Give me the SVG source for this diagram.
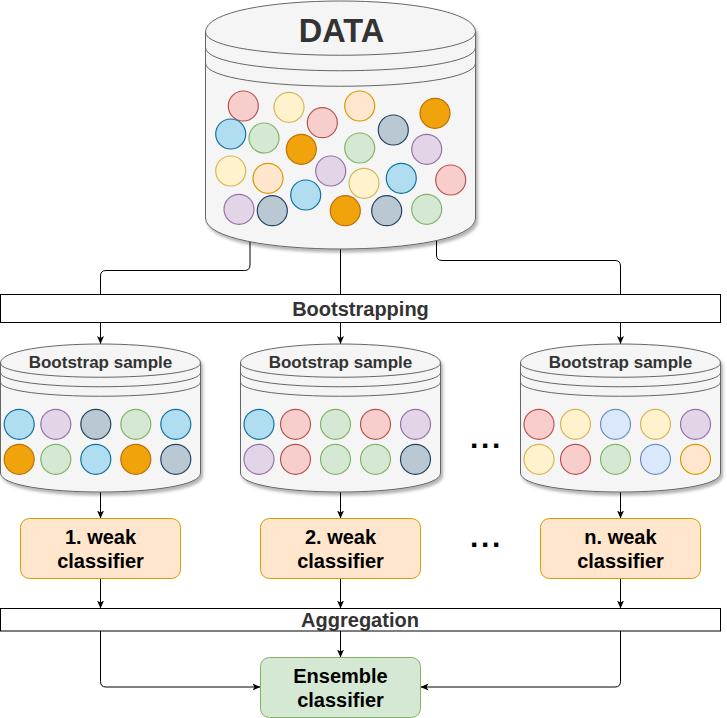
<svg xmlns="http://www.w3.org/2000/svg" width="727" height="718" viewBox="0 0 727 718">
<style>
text{font-family:"Liberation Sans",Arial,Helvetica,sans-serif;font-weight:bold;text-anchor:middle}
.cyl{fill:#f5f5f5;stroke:#666666;stroke-width:1}
.cyl-line{fill:none;stroke:#666666;stroke-width:1}
.gray{fill:#333333}
.blk{fill:#000000}
.bar{fill:#ffffff;stroke:#000000;stroke-width:1}
.weak{fill:#ffe6cc;stroke:#d79b00;stroke-width:1}
.ens{fill:#d5e8d4;stroke:#82b366;stroke-width:1}
.conn{fill:none;stroke:#000000;stroke-width:1}
.pk{fill:#f8cecc;stroke:#b85450}
.ye{fill:#fff2cc;stroke:#d6b656}
.pe{fill:#ffe6cc;stroke:#d79b00}
.or{fill:#f0a30a;stroke:#bd7000}
.bl{fill:#b1ddf0;stroke:#10739e}
.gr{fill:#d5e8d4;stroke:#82b366}
.sl{fill:#bac8d3;stroke:#23445d}
.pu{fill:#e1d5e7;stroke:#9673a6}
.lb{fill:#dae8fc;stroke:#6c8ebf}
circle{stroke-width:1.2}
</style>
<defs>
<filter id="sh" x="-10%" y="-10%" width="130%" height="130%">
<feDropShadow dx="2" dy="3" stdDeviation="1.5" flood-color="#000000" flood-opacity="0.3"/>
</filter>
<marker id="arr" viewBox="0 0 8 8" markerWidth="8" markerHeight="8" refX="8" refY="4" orient="auto" markerUnits="userSpaceOnUse">
<path d="M0,0.5 L8,4 L0,7.5 L2,4 Z" fill="#000000"/>
</marker>
<g id="bscyl">
<path class="cyl" filter="url(#sh)" d="M0.5,363 C0.5,337.67 200.5,337.67 200.5,363 L200.5,473 C200.5,498.33 0.5,498.33 0.5,473 Z"/>
<path class="cyl-line" d="M0.5,363 C0.5,382 200.5,382 200.5,363"/>
<path class="cyl-line" d="M0.5,372.5 C0.5,391.5 200.5,391.5 200.5,372.5"/>
<path class="cyl-line" d="M0.5,382 C0.5,401 200.5,401 200.5,382"/>
<text class="gray" x="100.5" y="368.3" font-size="17">Bootstrap sample</text>
</g>
</defs>

<g id="connectors">
<path class="conn" d="M250,235 L250,265 Q250,270.5 244.5,270.5 L106,270.5 Q100.5,270.5 100.5,276 L100.5,294.5"/>
<path class="conn" d="M340.5,245 L340.5,294.5"/>
<path class="conn" d="M436.5,235 L436.5,255 Q436.5,260.5 442,260.5 L615,260.5 Q620.5,260.5 620.5,266 L620.5,294.5"/>
<path class="conn" marker-end="url(#arr)" d="M100.5,322.5 L100.5,344"/>
<path class="conn" marker-end="url(#arr)" d="M340.5,322.5 L340.5,344"/>
<path class="conn" marker-end="url(#arr)" d="M620.5,322.5 L620.5,344"/>
<path class="conn" marker-end="url(#arr)" d="M100.5,490 L100.5,518.5"/>
<path class="conn" marker-end="url(#arr)" d="M340.5,490 L340.5,518.5"/>
<path class="conn" marker-end="url(#arr)" d="M620.5,490 L620.5,518.5"/>
<path class="conn" marker-end="url(#arr)" d="M100.5,578.5 L100.5,608.5"/>
<path class="conn" marker-end="url(#arr)" d="M340.5,578.5 L340.5,608.5"/>
<path class="conn" marker-end="url(#arr)" d="M620.5,578.5 L620.5,608.5"/>
<path class="conn" marker-end="url(#arr)" d="M340.5,631 L340.5,657.5"/>
<path class="conn" marker-end="url(#arr)" d="M100.5,631 L100.5,681.5 Q100.5,687 106,687 L260.5,687"/>
<path class="conn" marker-end="url(#arr)" d="M620.5,631 L620.5,681.5 Q620.5,687 615,687 L420.5,687"/>
</g>

<g id="data">
<path class="cyl" filter="url(#sh)" d="M205.5,32 C205.5,-9.33 475.5,-9.33 475.5,32 L475.5,218 C475.5,259.33 205.5,259.33 205.5,218 Z"/>
<path class="cyl-line" d="M205.5,32 C205.5,63 475.5,63 475.5,32"/>
<path class="cyl-line" d="M205.5,47.5 C205.5,78.5 475.5,78.5 475.5,47.5"/>
<path class="cyl-line" d="M205.5,63 C205.5,94 475.5,94 475.5,63"/>
<text class="gray" x="341.5" y="41.5" font-size="32.5">DATA</text>
<circle class="pk" cx="243.3" cy="106" r="15"/>
<circle class="ye" cx="289" cy="107.3" r="15"/>
<circle class="pk" cx="322.3" cy="122.7" r="15"/>
<circle class="pe" cx="359.7" cy="106" r="15"/>
<circle class="or" cx="435" cy="113.3" r="15"/>
<circle class="bl" cx="230.7" cy="134" r="15"/>
<circle class="gr" cx="264" cy="138" r="15"/>
<circle class="or" cx="301.3" cy="149.3" r="15"/>
<circle class="gr" cx="359.7" cy="148" r="15"/>
<circle class="sl" cx="393.3" cy="130" r="15"/>
<circle class="pu" cx="426.7" cy="149.3" r="15"/>
<circle class="ye" cx="230.7" cy="171" r="15"/>
<circle class="pe" cx="268" cy="178.3" r="15"/>
<circle class="pu" cx="330.7" cy="171" r="15"/>
<circle class="ye" cx="364" cy="183.3" r="15"/>
<circle class="bl" cx="401.3" cy="178.3" r="15"/>
<circle class="pk" cx="450.7" cy="180" r="15"/>
<circle class="bl" cx="305.7" cy="195" r="15"/>
<circle class="pu" cx="239" cy="209.3" r="15"/>
<circle class="sl" cx="272.3" cy="210.7" r="15"/>
<circle class="or" cx="345.3" cy="210.7" r="15"/>
<circle class="sl" cx="386.7" cy="210.7" r="15"/>
<circle class="gr" cx="426.7" cy="209.3" r="15"/>
</g>

<g id="bootstrapping">
<rect class="bar" x="0.5" y="294.5" width="720" height="28"/>
<text class="gray" x="360.5" y="316" font-size="20">Bootstrapping</text>
</g>

<g id="sample1">
<use href="#bscyl"/>
<circle class="bl" cx="19.2" cy="424.3" r="15"/>
<circle class="pu" cx="55.8" cy="424.3" r="15"/>
<circle class="sl" cx="95.8" cy="424.3" r="15"/>
<circle class="gr" cx="135.8" cy="424.3" r="15"/>
<circle class="bl" cx="175.8" cy="424.3" r="15"/>
<circle class="or" cx="19.2" cy="459.3" r="15"/>
<circle class="gr" cx="55.8" cy="459.3" r="15"/>
<circle class="bl" cx="95.8" cy="459.3" r="15"/>
<circle class="or" cx="135.8" cy="459.3" r="15"/>
<circle class="sl" cx="175.8" cy="459.3" r="15"/>
</g>

<g id="sample2" transform="translate(240,0)">
<use href="#bscyl"/>
<circle class="bl" cx="19" cy="424.3" r="15"/>
<circle class="pk" cx="55.5" cy="424.3" r="15"/>
<circle class="gr" cx="95.5" cy="424.3" r="15"/>
<circle class="pk" cx="135.5" cy="424.3" r="15"/>
<circle class="pu" cx="175.5" cy="424.3" r="15"/>
<circle class="pu" cx="19" cy="459.3" r="15"/>
<circle class="pk" cx="55.5" cy="459.3" r="15"/>
<circle class="gr" cx="95.5" cy="459.3" r="15"/>
<circle class="gr" cx="135.5" cy="459.3" r="15"/>
<circle class="sl" cx="175.5" cy="459.3" r="15"/>
</g>

<g id="sample3" transform="translate(520,0)">
<use href="#bscyl"/>
<circle class="pk" cx="19" cy="424.3" r="15"/>
<circle class="ye" cx="55.5" cy="424.3" r="15"/>
<circle class="lb" cx="95.5" cy="424.3" r="15"/>
<circle class="ye" cx="135.5" cy="424.3" r="15"/>
<circle class="pu" cx="175.5" cy="424.3" r="15"/>
<circle class="ye" cx="19" cy="459.3" r="15"/>
<circle class="pk" cx="55.5" cy="459.3" r="15"/>
<circle class="gr" cx="95.5" cy="459.3" r="15"/>
<circle class="lb" cx="135.5" cy="459.3" r="15"/>
<circle class="pe" cx="175.5" cy="459.3" r="15"/>
</g>

<g id="dots1">
<text class="blk" x="470" y="448" font-size="30" letter-spacing="2.7" style="text-anchor:start">...</text>
</g>

<g id="weak1">
<rect class="weak" x="20.5" y="518.5" width="160" height="60" rx="9"/>
<text class="blk" x="100.5" y="544" font-size="20">1. weak</text>
<text class="blk" x="100.5" y="568" font-size="20">classifier</text>
</g>
<g id="weak2">
<rect class="weak" x="260.5" y="518.5" width="160" height="60" rx="9"/>
<text class="blk" x="340.5" y="544" font-size="20">2. weak</text>
<text class="blk" x="340.5" y="568" font-size="20">classifier</text>
</g>
<g id="dots2">
<text class="blk" x="470" y="547" font-size="30" letter-spacing="2.7" style="text-anchor:start">...</text>
</g>
<g id="weakn">
<rect class="weak" x="540.5" y="518.5" width="160" height="60" rx="9"/>
<text class="blk" x="620.5" y="544" font-size="20">n. weak</text>
<text class="blk" x="620.5" y="568" font-size="20">classifier</text>
</g>

<g id="aggregation">
<rect class="bar" x="0.5" y="608.5" width="720" height="22.5"/>
<text class="gray" x="360" y="627" font-size="20">Aggregation</text>
</g>

<g id="ensemble">
<rect class="ens" x="260.5" y="657.5" width="160" height="60" rx="9"/>
<text class="blk" x="340.5" y="683" font-size="20">Ensemble</text>
<text class="blk" x="340.5" y="707" font-size="20">classifier</text>
</g>
</svg>
